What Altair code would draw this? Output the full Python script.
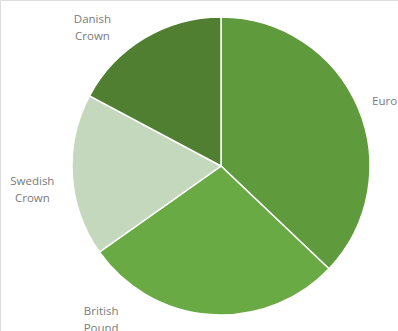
import altair as alt
import pandas as pd

currencies = ["Euro", "British\nPound", "Swedish\nCrown", "Danish\nCrown"]
shares = [37.1, 28.1, 17.6, 17.2]
order = [1, 2, 3, 4]
colors = ["#5f9a3c", "#6aaa45", "#c3d8bc", "#507f32"]

df = pd.DataFrame({"currency": currencies, "share": shares, "order": order})

pie = alt.Chart(df).mark_arc(radius=149, stroke="white", strokeWidth=1.5).encode(
    theta=alt.Theta("share:Q", stack=True),
    order=alt.Order("order:Q", sort="ascending"),
    color=alt.Color("currency:N", scale=alt.Scale(domain=currencies, range=colors), legend=None),
    x=alt.value(221),
    y=alt.value(166),
)

offsets = {
    "Euro": (0, 6),
    "British\nPound": (-107, -32),
    "Swedish\nCrown": (-11, 5),
    "Danish\nCrown": (-37, 7),
}

layers = [pie]
for cur in currencies:
    dx, dy = offsets[cur]
    layers.append(
        alt.Chart(df)
        .transform_stack(stack="share", as_=["s0", "s1"], groupby=[], sort=[alt.SortField("order", order="ascending")])
        .transform_calculate(mid="(datum.s0 + datum.s1) / 2")
        .transform_filter(alt.datum.currency == cur)
        .mark_text(
            radius=178, dx=dx, dy=dy, font="Open Sans", fontSize=11.5,
            color="#7a7a7a", lineBreak="\n", lineHeight=17, align="center", baseline="middle"
        )
        .encode(
            theta=alt.Theta("mid:Q", stack=None),
            text="currency:N",
            x=alt.value(221),
            y=alt.value(166),
        )
    )

chart = alt.layer(*layers).properties(
    width=398, height=331, padding=0, autosize=alt.AutoSizeParams(type="none")
).configure_view(stroke=None).configure(background="white")

chart.save("out.html", embed_options={"renderer": "svg", "actions": False})
